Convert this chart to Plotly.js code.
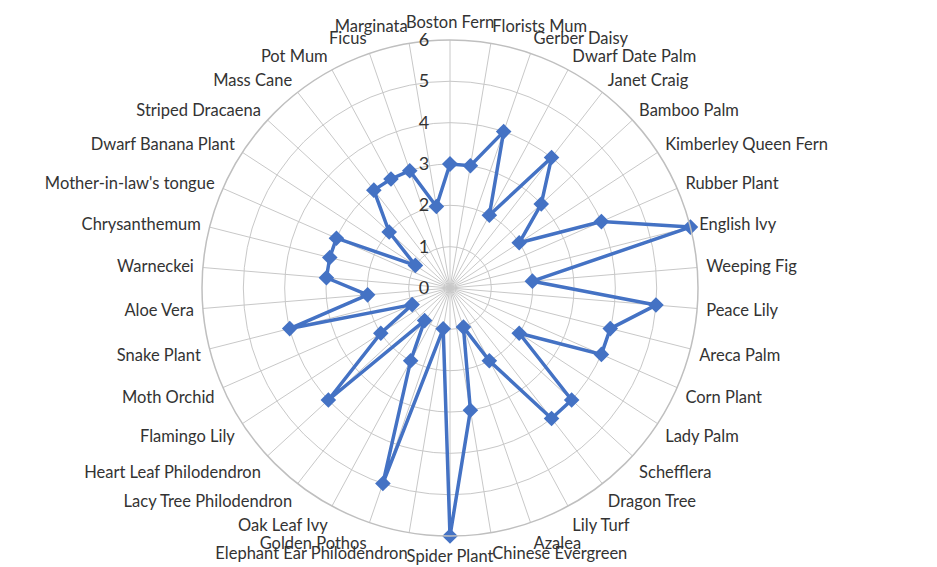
<!DOCTYPE html>
<html>
<head>
<meta charset="utf-8">
<script src="https://cdn.plot.ly/plotly-3.0.1.min.js"></script>
<style>html,body{margin:0;padding:0;background:#fff;}#chart{width:937px;height:567px;}</style>
</head>
<body>
<div id="chart"></div>
<script>
const plants = ["Boston Fern","Florists Mum","Gerber Daisy","Dwarf Date Palm","Janet Craig","Bamboo Palm","Kimberley Queen Fern","Rubber Plant","English Ivy","Weeping Fig","Peace Lily","Areca Palm","Corn Plant","Lady Palm","Schefflera","Dragon Tree","Lily Turf","Azalea","Chinese Evergreen","Spider Plant","Elephant Ear Philodendron","Golden Pothos","Oak Leaf Ivy","Lacy Tree Philodendron","Heart Leaf Philodendron","Flamingo Lily","Moth Orchid","Snake Plant","Aloe Vera","Warneckei","Chrysanthemum","Mother-in-law's tongue","Dwarf Banana Plant","Striped Dracaena","Mass Cane","Pot Mum","Ficus","Marginata"];
const scores = [3,3,4,2,4,3,2,4,6,2,5,4,4,2,4,4,2,1,3,6,1,5,2,1,4,2,1,4,2,3,3,3,1,2,3,3,3,2];
const radialTicks = [0,1,2,3,4,5,6];

const trace = {
  type: 'scatterpolar',
  r: scores.concat([scores[0]]),
  theta: plants.concat([plants[0]]),
  mode: 'lines+markers',
  line: {color: '#4472C4', width: 3.5},
  marker: {symbol: 'diamond', size: 12, color: '#4472C4'},
  hoverinfo: 'none'
};

const layout = {
  width: 937, height: 567,
  margin: {l: 0, r: 37, t: 40, b: 31},
  paper_bgcolor: '#ffffff',
  showlegend: false,
  font: {family: 'Lato, "Open Sans", sans-serif', size: 16, color: '#333333'},
  polar: {
    bgcolor: '#ffffff',
    angularaxis: {
      type: 'category',
      categoryarray: plants,
      direction: 'clockwise',
      rotation: 90,
      showgrid: true,
      gridcolor: '#c8c8c8',
      gridwidth: 1,
      showline: true,
      linecolor: '#bfbfbf',
      linewidth: 1.5,
      ticks: 'outside',
      ticklen: 5,
      tickcolor: 'rgba(0,0,0,0)',
      tickfont: {size: 16.5, color: '#333333'}
    },
    radialaxis: {
      range: [0, 6],
      tickvals: radialTicks,
      ticktext: radialTicks.map(String),
      angle: 90,
      tickangle: 90,
      side: 'counterclockwise',
      showline: false,
      showgrid: true,
      gridcolor: '#c8c8c8',
      gridwidth: 1,
      ticks: 'outside',
      ticklen: 14,
      tickcolor: 'rgba(0,0,0,0)',
      tickfont: {size: 18, color: '#333333'}
    }
  }
};

Plotly.newPlot('chart', [trace], layout, {displayModeBar: false, staticPlot: true});
</script>
</body>
</html>
